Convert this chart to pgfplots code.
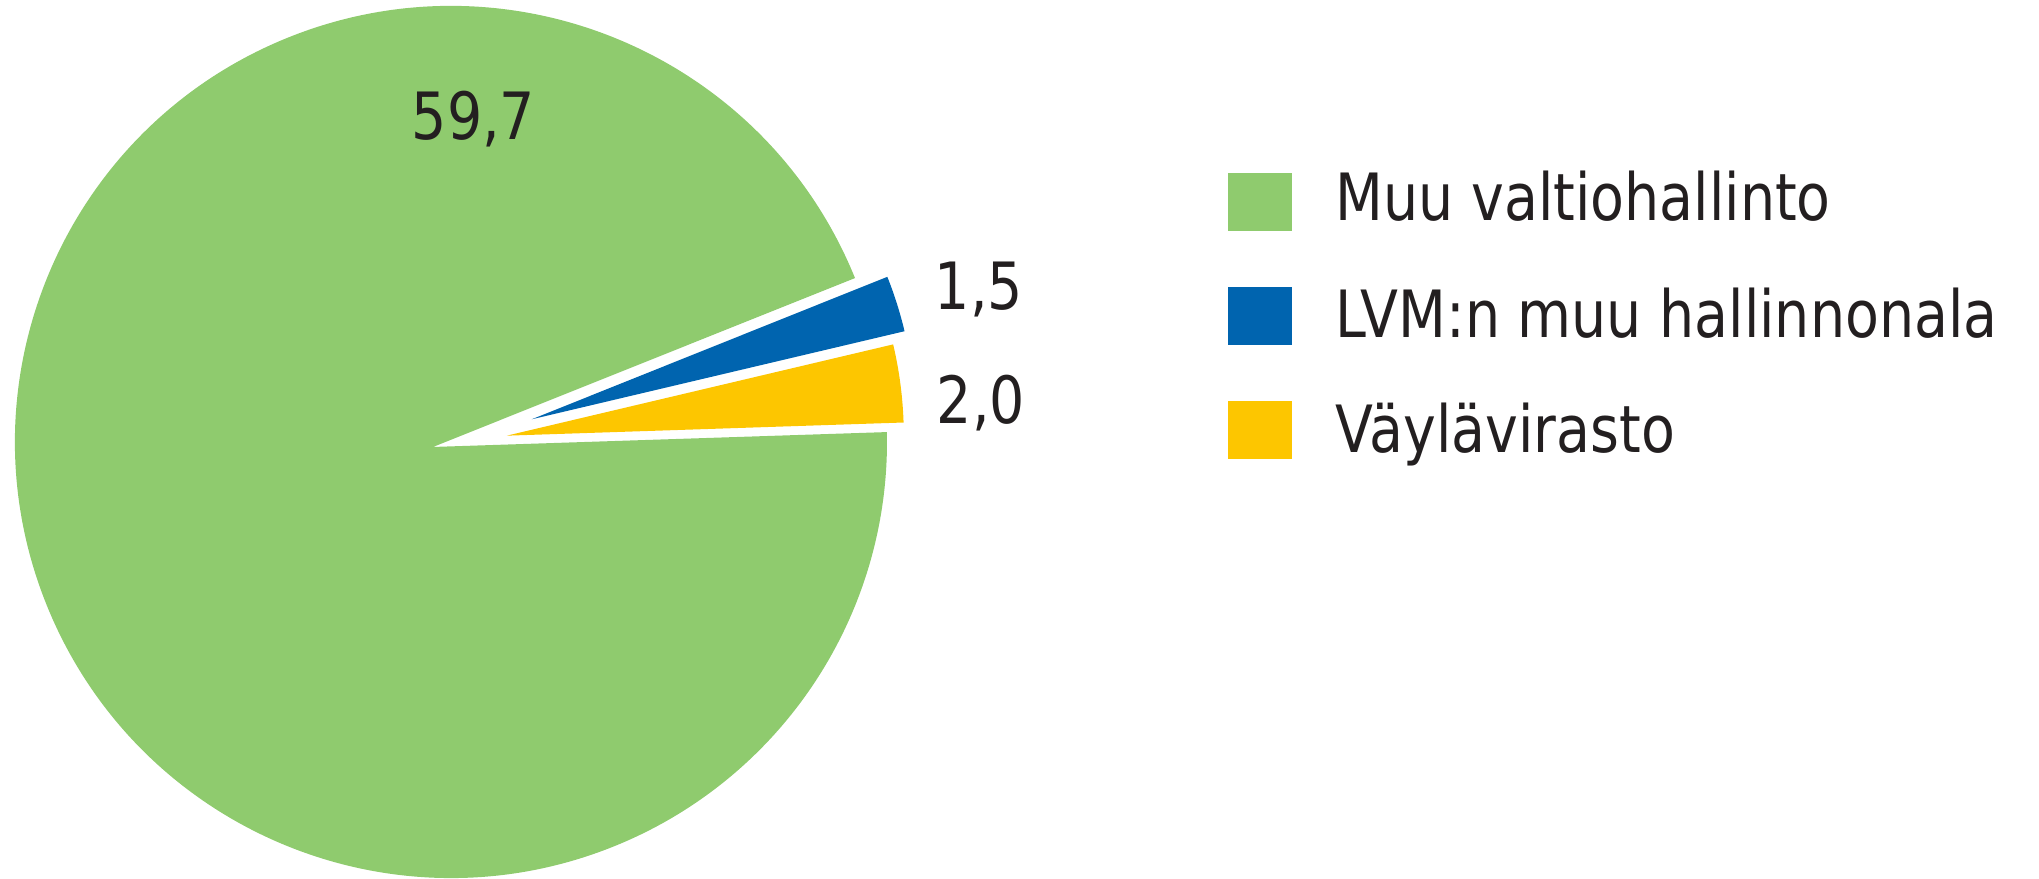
\documentclass[border=0pt]{standalone}
\usepackage{pgfplots}
\pgfplotsset{compat=1.18}
\usepackage{fontspec}
\setmainfont{DejaVu Sans}[FakeStretch=0.85]
\usetikzlibrary{calc}
\definecolor{cgreen}{HTML}{8FCB6E}
\definecolor{cblue}{HTML}{0064AF}
\definecolor{cyellow}{HTML}{FDC600}
\definecolor{ctext}{HTML}{231F20}
\newcommand{\lbl}{\fontsize{16.3bp}{19bp}\selectfont}
\begin{document}
\begin{tikzpicture}
% data values
\def\vGreen{59.7}\def\vBlue{1.5}\def\vYellow{2.0}
\pgfmathsetmacro{\total}{\vGreen+\vBlue+\vYellow}
\pgfmathsetmacro{\yA}{1.9}
\pgfmathsetmacro{\yB}{\yA+\vYellow/\total*360}
\pgfmathsetmacro{\bB}{\yB+\vBlue/\total*360}
\pgfmathsetmacro{\gB}{\bB+\vGreen/\total*360}
\pgfmathsetmacro{\gs}{\bB+0.25}
\pgfmathsetmacro{\ge}{\gB-0.6}
\begin{axis}[width=509.75bp,height=219.75bp,scale only axis,
  xmin=0,xmax=2039,ymin=-879,ymax=0,hide axis]
% Muu valtiohallinto
\fill[cgreen] (axis cs:433,-447) -- ($(axis cs:451,-442)+(\gs:109bp)$)
   arc[start angle=\gs, end angle=\ge, radius=109bp] -- cycle;
% Vaylavirasto
\fill[cyellow] (axis cs:506.8,-435.7) -- ++(\yA:99.25bp)
   arc[start angle=\yA, end angle=\yB, radius=99.25bp] -- cycle;
% LVM:n muu hallinnonala
\fill[cblue] (axis cs:531.8,-419.3) -- ++(\yB:95.75bp)
   arc[start angle=\yB, end angle=\bB, radius=95.75bp] -- cycle;
% value labels
\node[anchor=base west, inner sep=0, font=\lbl, text=ctext] at (axis cs:411,-140) {59,7};
\node[anchor=base west, inner sep=0, font=\lbl, text=ctext] at (axis cs:934,-310) {1,5};
\node[anchor=base west, inner sep=0, font=\lbl, text=ctext] at (axis cs:936,-423.3) {2,0};
% legend
\fill[cgreen] (axis cs:1228,-173.3) rectangle (axis cs:1292,-230.7);
\fill[cblue] (axis cs:1228,-286.7) rectangle (axis cs:1292,-345);
\fill[cyellow] (axis cs:1228,-401) rectangle (axis cs:1292,-459);
\node[anchor=base west, inner sep=0, font=\lbl, text=ctext] at (axis cs:1335,-221) {Muu valtiohallinto};
\node[anchor=base west, inner sep=0, font=\lbl, text=ctext] at (axis cs:1335,-337.3) {LVM:n muu hallinnonala};
\node[anchor=base west, inner sep=0, font=\lbl, text=ctext] at (axis cs:1335,-453) {Väylävirasto};
\end{axis}
\pgfresetboundingbox
\path[use as bounding box] (current axis.south west) rectangle (current axis.north east);
\end{tikzpicture}
\end{document}
